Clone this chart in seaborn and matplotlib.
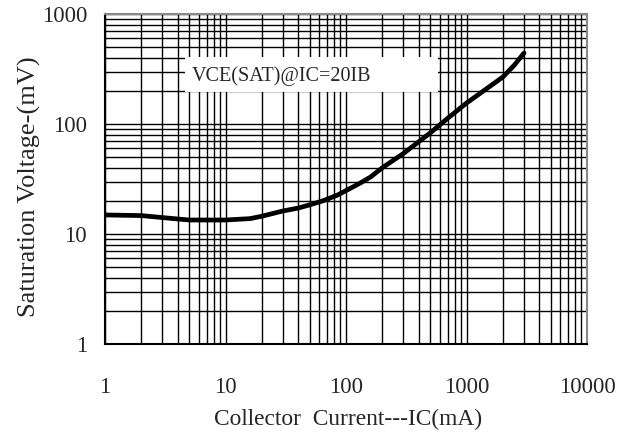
import matplotlib
matplotlib.use("Agg")
import matplotlib.pyplot as plt
import matplotlib.ticker as mticker
from matplotlib.patches import Rectangle
import seaborn as sns
import pandas as pd

# VCE(sat) vs collector current, IC = 20 * IB
collector_current_ma = [1, 2, 3, 4, 5, 7, 10, 16, 20, 30, 40, 50, 65, 85, 100,
                        130, 160, 200, 300, 500, 700, 1000, 2000, 2500, 3000]
saturation_voltage_mv = [14.9, 14.7, 14.1, 13.7, 13.4, 13.4, 13.4, 13.8, 14.5, 16.2, 17.2, 18.4, 20.1, 22.6, 24.8,
                         28.9, 33, 40, 54, 83, 113, 155, 267, 344, 442]

x_ticks = [1, 10, 100, 1000, 10000]
y_ticks = [1, 10, 100, 1000]

sns.set_style("white")
plt.rcParams["font.family"] = ["Liberation Serif", "DejaVu Serif"]

df = pd.DataFrame({"ic": collector_current_ma, "vce": saturation_voltage_mv})

fig = plt.figure(figsize=(6.18, 4.32), dpi=100)
ax = fig.add_axes([105 / 618, 1 - 344 / 432, 482 / 618, 330 / 432])

sns.lineplot(data=df, x="ic", y="vce", ax=ax, color="black", linewidth=3.4, zorder=4)

ax.set_xscale("log")
ax.set_yscale("log")
ax.set_xlim(1, 10000)
ax.set_ylim(1, 1000)

ax.xaxis.set_major_locator(mticker.FixedLocator(x_ticks))
ax.yaxis.set_major_locator(mticker.FixedLocator(y_ticks))
ax.xaxis.set_minor_locator(mticker.LogLocator(base=10, subs=range(2, 10)))
ax.yaxis.set_minor_locator(mticker.LogLocator(base=10, subs=range(2, 10)))
ax.xaxis.set_major_formatter(mticker.FixedFormatter([str(v) for v in x_ticks]))
ax.yaxis.set_major_formatter(mticker.FixedFormatter([str(v) for v in y_ticks]))
ax.xaxis.set_minor_formatter(mticker.NullFormatter())
ax.yaxis.set_minor_formatter(mticker.NullFormatter())

ax.grid(True, which="both", color="black", linewidth=1.0)
ax.set_axisbelow(True)
ax.tick_params(which="both", length=0)
ax.tick_params(axis="x", pad=24, labelsize=16.5)
ax.tick_params(axis="y", pad=13, labelsize=16.5)

for side in ("left", "bottom"):
    ax.spines[side].set_color("black")
    ax.spines[side].set_linewidth(1.5)
for side in ("top", "right"):
    ax.spines[side].set_color("#888888")
    ax.spines[side].set_linewidth(1.5)

ax.set_xlabel("Collector  Current---IC(mA)", fontsize=16.8)
ax.set_ylabel("Saturation Voltage-(mV)", fontsize=19)
ax.xaxis.set_label_coords(0.505, -0.196)
ax.yaxis.set_label_coords(-0.133, 0.476)

# white label panel over the grid
ax.add_patch(Rectangle((0.166, 0.764), 0.525, 0.106, transform=ax.transAxes,
                       facecolor="white", edgecolor="none", zorder=3))
ax.text(0.181, 0.812, "VCE(SAT)@IC=20IB", transform=ax.transAxes,
        fontsize=14.5, va="center", ha="left", zorder=5)

fig.savefig("out.png", dpi=100)
